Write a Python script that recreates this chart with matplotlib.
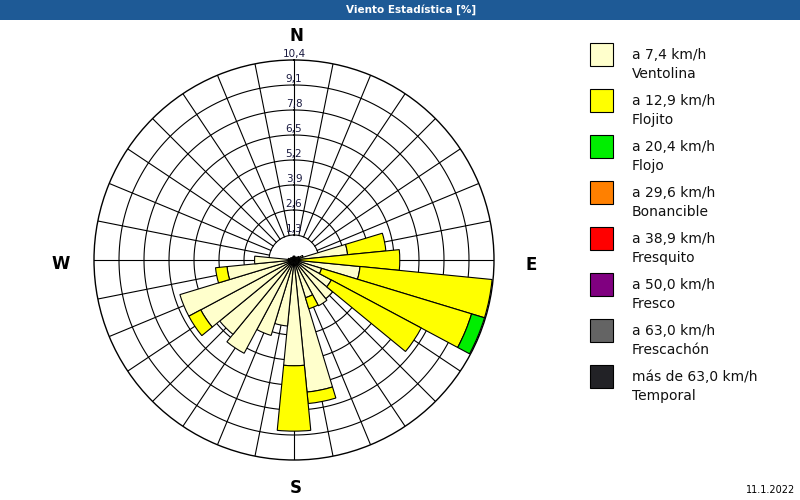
import numpy as np
import matplotlib.pyplot as plt
from matplotlib.patches import Rectangle

# Direcciones (grados, sentido horario desde el norte) - 32 sectores
direcciones = [0, 11.25, 22.5, 33.75, 45, 56.25, 67.5, 78.75,
               90, 101.25, 112.5, 123.75, 135, 146.25, 157.5, 168.75,
               180, 191.25, 202.5, 213.75, 225, 236.25, 247.5, 258.75,
               270, 281.25, 292.5, 303.75, 315, 326.25, 337.5, 348.75]

# Frecuencias [%] por rango de velocidad (apiladas)
ventolina = [0.2, 0.2, 0.15, 0.15, 0.2, 0.3, 0.5, 2.8,
             0.2, 3.45, 1.5, 2.2, 2.6, 2.7, 2.05, 6.9,
             5.5, 3.45, 4.1, 5.5, 5.0, 5.5, 6.2, 3.5,
             2.05, 0.3, 0.2, 0.2, 0.15, 0.15, 0.15, 0.2]
flojito = [0, 0, 0, 0, 0, 0, 0, 2.0,
           5.3, 6.9, 8.15, 5.3, 0, 0, 0.6, 0.6,
           3.4, 0, 0, 0, 0, 0.7, 0, 0.6,
           0, 0, 0, 0, 0, 0, 0, 0]
flojo = [0, 0, 0, 0, 0, 0, 0, 0,
         0, 0, 0.7, 0, 0, 0, 0, 0,
         0, 0, 0, 0, 0, 0, 0, 0,
         0, 0, 0, 0, 0, 0, 0, 0]

rangos = ['a 7,4 km/h', 'a 12,9 km/h', 'a 20,4 km/h', 'a 29,6 km/h',
          'a 38,9 km/h', 'a 50,0 km/h', 'a 63,0 km/h', 'más de 63,0 km/h']
nombres = ['Ventolina', 'Flojito', 'Flojo', 'Bonancible',
           'Fresquito', 'Fresco', 'Frescachón', 'Temporal']
colores = ['#ffffcc', '#ffff00', '#00ee00', '#ff8000',
           '#ff0000', '#800080', '#646464', '#222226']

anillos = [1.3, 2.6, 3.9, 5.2, 6.5, 7.8, 9.1, 10.4]
etiquetas_anillos = ['1,3', '2,6', '3,9', '5,2', '6,5', '7,8', '9,1', '10,4']

W, H = 800, 500
fig = plt.figure(figsize=(8, 5), dpi=100)
fig.patch.set_facecolor('white')

# Barra de titulo
azul = '#1e5a96'
fig.add_artist(Rectangle((0, 1 - 20 / H), 1, 20 / H, transform=fig.transFigure,
                         facecolor=azul, edgecolor='none'))
fig.text(411 / W, 1 - 10 / H, 'Viento Estadística [%]', color='white',
         fontsize=7.5, fontweight='bold', ha='center', va='center')

# Rosa de los vientos
ax = fig.add_axes([94 / W, 40 / H, 400 / W, 400 / H], projection='polar')
ax.set_theta_zero_location('N')
ax.set_theta_direction(-1)
ax.set_ylim(0, anillos[-1])
ax.set_xticks([])
ax.set_yticks([])
ax.grid(False)
ax.spines['polar'].set_color('black')
ax.spines['polar'].set_linewidth(1)

theta = np.radians(direcciones)
ancho = np.radians(11.25)

# rejilla propia (radios desde el primer anillo)
t = np.linspace(0, 2 * np.pi, 400)
for r in anillos[:-1]:
    ax.plot(t, np.full_like(t, r), color='black', lw=0.8, zorder=1)
for ang in theta:
    ax.plot([ang, ang], [anillos[0], anillos[-1]], color='black', lw=0.8, zorder=1)

# barras apiladas
base = np.zeros(len(direcciones))
for serie, color in zip([ventolina, flojito, flojo], colores):
    valores = np.array(serie)
    m = valores > 0
    ax.bar(theta[m], valores[m], width=ancho, bottom=base[m], color=color,
           edgecolor='black', linewidth=0.8, zorder=2)
    base += valores

for v, lab in zip(anillos, etiquetas_anillos):
    ax.text(0, v + 0.32, lab, ha='center', va='center', fontsize=7.5,
            color='#1a1a40', zorder=3)

# puntos cardinales
for x, y, letra in [(0.507, 1.06, 'N'), (1.0925, 0.4875, 'E'),
                    (0.505, -0.07, 'S'), (-0.0825, 0.49, 'W')]:
    ax.text(x, y, letra, transform=ax.transAxes, fontsize=12,
            fontweight='bold', ha='center', va='center')

# leyenda
for i, (rango, nombre, color) in enumerate(zip(rangos, nombres, colores)):
    y_top = 43 + 46 * i
    fig.add_artist(Rectangle((590 / W, 1 - (y_top + 23) / H), 23 / W, 23 / H,
                             transform=fig.transFigure, facecolor=color,
                             edgecolor='black', linewidth=0.8))
    fig.text(632 / W, 1 - (y_top + 12) / H, rango, fontsize=10, va='center',
             color='#111111')
    fig.text(632 / W, 1 - (y_top + 31) / H, nombre, fontsize=10, va='center',
             color='#111111')

fig.text(795 / W, 1 - 490 / H, '11.1.2022', ha='right', va='center', fontsize=7)

fig.savefig('out.png', dpi=100)
